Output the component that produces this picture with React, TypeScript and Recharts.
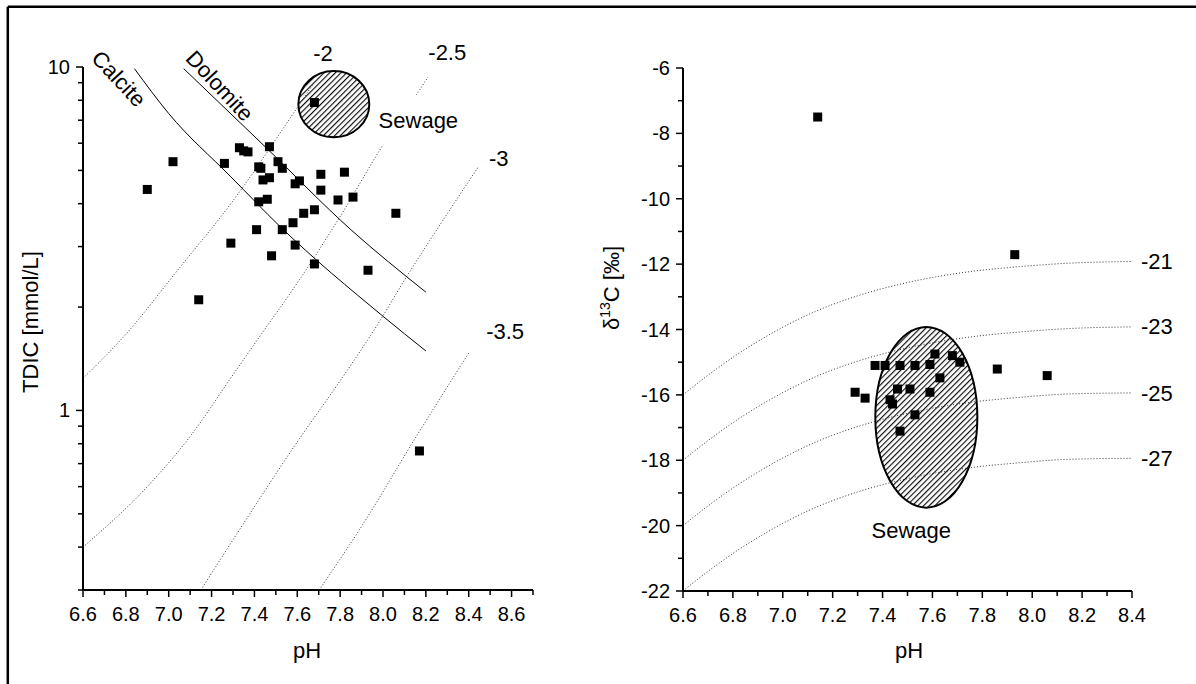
import React from "react";
import {
  ComposedChart,
  Line,
  Scatter,
  XAxis,
  YAxis,
  ReferenceArea,
  ReferenceDot,
} from "recharts";

const FONT = "'Liberation Sans', Arial, Helvetica, sans-serif";

// ---------- left panel: TDIC vs pH ----------
const PH_TICKS_LEFT = [
  6.6, 6.7, 6.8, 6.9, 7.0, 7.1, 7.2, 7.3, 7.4, 7.5, 7.6, 7.7, 7.8, 7.9, 8.0,
  8.1, 8.2, 8.3, 8.4, 8.5, 8.6, 8.7,
];
const TDIC_TICKS = [0.3, 0.4, 0.5, 0.6, 0.7, 0.8, 0.9, 1, 2, 3, 4, 5, 6, 7, 8, 9, 10];
const TDIC_LABELLED = [1, 10];

const tdicSamples = [
  { x: 7.68, y: 7.88 }, { x: 7.02, y: 5.3 }, { x: 6.9, y: 4.4 }, { x: 7.14, y: 2.1 },
  { x: 7.26, y: 5.24 }, { x: 7.33, y: 5.82 }, { x: 7.35, y: 5.7 }, { x: 7.37, y: 5.66 },
  { x: 7.47, y: 5.86 }, { x: 7.42, y: 5.12 }, { x: 7.43, y: 5.07 }, { x: 7.51, y: 5.3 },
  { x: 7.53, y: 5.07 }, { x: 7.44, y: 4.69 }, { x: 7.47, y: 4.76 }, { x: 7.59, y: 4.57 },
  { x: 7.61, y: 4.66 }, { x: 7.71, y: 4.87 }, { x: 7.82, y: 4.94 }, { x: 7.71, y: 4.38 },
  { x: 7.79, y: 4.1 }, { x: 7.86, y: 4.18 }, { x: 7.42, y: 4.05 }, { x: 7.46, y: 4.12 },
  { x: 7.68, y: 3.84 }, { x: 7.63, y: 3.75 }, { x: 7.58, y: 3.52 }, { x: 8.06, y: 3.75 },
  { x: 7.41, y: 3.36 }, { x: 7.53, y: 3.36 }, { x: 7.59, y: 3.03 }, { x: 7.29, y: 3.07 },
  { x: 7.48, y: 2.82 }, { x: 7.68, y: 2.67 }, { x: 7.93, y: 2.56 }, { x: 8.17, y: 0.762 },
];

const calcite = [
  { x: 6.84, y: 9.89 }, { x: 7.0, y: 7.32 }, { x: 7.29, y: 4.79 },
  { x: 7.52, y: 3.43 }, { x: 8.0, y: 1.88 }, { x: 8.2, y: 1.49 },
];
const dolomite = [
  { x: 7.07, y: 9.89 }, { x: 7.45, y: 5.86 }, { x: 7.85, y: 3.36 }, { x: 8.2, y: 2.21 },
];

// log pCO2 isolines
const pco2m20 = [
  { x: 6.6, y: 1.24 }, { x: 6.79, y: 1.64 }, { x: 7.05, y: 2.6 },
  { x: 7.29, y: 4.0 }, { x: 7.58, y: 7.3 }, { x: 7.67, y: 8.85 },
];
const pco2m25 = [
  { x: 6.6, y: 0.4 }, { x: 6.9, y: 0.6 }, { x: 7.1, y: 0.84 }, { x: 7.3, y: 1.27 },
  { x: 7.43, y: 1.66 }, { x: 7.6, y: 2.35 }, { x: 7.8, y: 3.67 }, { x: 8.0, y: 5.93 },
  { x: 8.16, y: 8.37 }, { x: 8.21, y: 9.35 },
];
const pco2m30 = [
  { x: 7.15, y: 0.3 }, { x: 7.36, y: 0.48 }, { x: 7.6, y: 0.81 }, { x: 7.8, y: 1.22 },
  { x: 7.97, y: 1.76 }, { x: 8.11, y: 2.45 }, { x: 8.28, y: 3.58 }, { x: 8.445, y: 5.12 },
];
const pco2m35 = [
  { x: 7.71, y: 0.305 }, { x: 7.91, y: 0.47 }, { x: 8.14, y: 0.81 }, { x: 8.4, y: 1.47 },
];

const pco2Labels = [
  { text: "-2", x: 7.72, y: 10.94 },
  { text: "-2.5", x: 8.3, y: 11.03 },
  { text: "-3", x: 8.54, y: 5.4 },
  { text: "-3.5", x: 8.57, y: 1.7 },
];
const sewageLeft = { x1: 7.605, x2: 7.936, y1: 6.24, y2: 9.74, labelX: 8.165, labelY: 6.97 };

// ---------- right panel: d13C vs pH ----------
const PH_TICKS_RIGHT = [
  6.6, 6.7, 6.8, 6.9, 7.0, 7.1, 7.2, 7.3, 7.4, 7.5, 7.6, 7.7, 7.8, 7.9, 8.0,
  8.1, 8.2, 8.3, 8.4,
];
const D13C_TICKS = [-22, -21, -20, -19, -18, -17, -16, -15, -14, -13, -12, -11, -10, -9, -8, -7, -6];

const d13cSamples = [
  { x: 7.14, y: -7.5 }, { x: 7.93, y: -11.71 },
  { x: 7.29, y: -15.92 }, { x: 7.33, y: -16.1 }, { x: 7.37, y: -15.1 }, { x: 7.41, y: -15.1 },
  { x: 7.47, y: -15.1 }, { x: 7.53, y: -15.1 }, { x: 7.59, y: -15.07 }, { x: 7.61, y: -14.75 },
  { x: 7.68, y: -14.8 }, { x: 7.71, y: -15.0 }, { x: 7.63, y: -15.48 }, { x: 7.46, y: -15.82 },
  { x: 7.51, y: -15.82 }, { x: 7.59, y: -15.92 }, { x: 7.43, y: -16.15 }, { x: 7.44, y: -16.28 },
  { x: 7.53, y: -16.61 }, { x: 7.47, y: -17.11 }, { x: 7.86, y: -15.21 }, { x: 8.06, y: -15.41 },
];

// d13C of source CO2 isolines
const PH_ISO = [6.6, 6.7, 6.82, 6.93, 7.13, 7.3, 7.49, 7.76, 7.93, 8.15, 8.4];
const iso21 = [-16.0, -15.4, -14.75, -14.23, -13.45, -12.97, -12.58, -12.22, -12.09, -11.97, -11.92];
const iso23 = [-18.0, -17.4, -16.75, -16.23, -15.45, -14.97, -14.58, -14.22, -14.09, -13.97, -13.92];
const iso25 = [-20.0, -19.4, -18.75, -18.23, -17.45, -16.97, -16.58, -16.22, -16.09, -15.97, -15.94];
const iso27 = [-22.0, -21.4, -20.75, -20.23, -19.45, -18.97, -18.58, -18.22, -18.09, -17.97, -17.94];
const isoLabels = [
  { text: "-21", y: -11.92 },
  { text: "-23", y: -13.91 },
  { text: "-25", y: -15.95 },
  { text: "-27", y: -17.94 },
];
const ISO_LABEL_X = 8.5;
const sewageRight = { x1: 7.371, x2: 7.78, y1: -19.45, y2: -13.92, labelX: 7.515, labelY: -20.14 };

const toPoints = (xs: number[], ys: number[]) => xs.map((x, i) => ({ x, y: ys[i] }));

// ---------- shared renderers ----------
const square = (p: any) => (
  <rect x={p.cx - 4.5} y={p.cy - 4.5} width={9} height={9} fill="#000" />
);

const textShape =
  (text: string, size = 22, rotate = 0) =>
  (p: any) =>
    (
      <text
        x={p.cx}
        y={p.cy}
        textAnchor="middle"
        dominantBaseline="central"
        fontSize={size}
        fontFamily={FONT}
        fill="#000"
        transform={rotate ? `rotate(${rotate}, ${p.cx}, ${p.cy})` : undefined}
      >
        {text}
      </text>
    );

const boxedLabel = (text: string) => (p: any) =>
  (
    <g>
      <rect x={p.cx - 42} y={p.cy - 26} width={86} height={50} fill="#fff" />
      <text
        x={p.cx}
        y={p.cy}
        textAnchor="middle"
        dominantBaseline="central"
        fontSize={22}
        fontFamily={FONT}
        fill="#000"
      >
        {text}
      </text>
    </g>
  );

const ellipseShape = (fillId: string) => (p: any) =>
  (
    <ellipse
      cx={p.x + p.width / 2}
      cy={p.y + p.height / 2}
      rx={p.width / 2}
      ry={p.height / 2}
      fill={`url(#${fillId})`}
      stroke="#000"
      strokeWidth={2}
    />
  );

const makeXTick = (p: any) => {
  const v = p.payload.value as number;
  const major = Math.round(v * 10) % 2 === 0;
  return (
    <g>
      <line x1={p.x} y1={p.y} x2={p.x} y2={p.y + (major ? 7 : 5)} stroke="#000" strokeWidth={1.5} />
      {major && (
        <text x={p.x} y={p.y + 31} textAnchor="middle" fontSize={20} fontFamily={FONT} fill="#000">
          {v.toFixed(1)}
        </text>
      )}
    </g>
  );
};

const makeYTick = (isMajor: (v: number) => boolean) => (p: any) => {
  const v = p.payload.value as number;
  const major = isMajor(v);
  return (
    <g>
      <line x1={p.x - (major ? 7 : 5)} y1={p.y} x2={p.x} y2={p.y} stroke="#000" strokeWidth={1.5} />
      {major && (
        <text
          x={p.x - 13}
          y={p.y}
          textAnchor="end"
          dominantBaseline="central"
          fontSize={20}
          fontFamily={FONT}
          fill="#000"
        >
          {v}
        </text>
      )}
    </g>
  );
};

const hatch = (id: string) => (
  <defs>
    <pattern id={id} width={4} height={4} patternUnits="userSpaceOnUse" patternTransform="rotate(45)">
      <rect width={4} height={4} fill="#fff" />
      <line x1={0.6} y1={0} x2={0.6} y2={4} stroke="#000" strokeWidth={1.1} />
    </pattern>
  </defs>
);

const axisLine = { stroke: "#000", strokeWidth: 2 };
const dotted = { stroke: "#333", strokeWidth: 1, strokeDasharray: "1 2" };

function TdicChart() {
  return (
    <ComposedChart width={560} height={684} margin={{ top: 67, right: 27, bottom: 54, left: 33 }}>
      {hatch("hatchLeft")}
      <XAxis
        type="number"
        dataKey="x"
        domain={[6.6, 8.7]}
        ticks={PH_TICKS_LEFT}
        interval={0}
        allowDataOverflow
        tickSize={0}
        tickMargin={0}
        tickLine={false}
        axisLine={axisLine}
        tick={makeXTick}
        height={40}
      />
      <YAxis
        type="number"
        dataKey="y"
        scale="log"
        domain={[0.3, 10]}
        ticks={TDIC_TICKS}
        interval={0}
        allowDataOverflow
        tickSize={0}
        tickMargin={0}
        tickLine={false}
        axisLine={axisLine}
        tick={makeYTick((v) => TDIC_LABELLED.includes(v))}
        width={50}
      />
      <Line data={pco2m20} dataKey="y" dot={false} type="monotone" {...dotted} isAnimationActive={false} />
      <Line data={pco2m25} dataKey="y" dot={false} type="monotone" {...dotted} isAnimationActive={false} />
      <Line data={pco2m30} dataKey="y" dot={false} type="monotone" {...dotted} isAnimationActive={false} />
      <Line data={pco2m35} dataKey="y" dot={false} type="monotone" {...dotted} isAnimationActive={false} />
      <Line data={calcite} dataKey="y" dot={false} type="monotone" stroke="#000" strokeWidth={1} isAnimationActive={false} />
      <Line data={dolomite} dataKey="y" dot={false} type="monotone" stroke="#000" strokeWidth={1} isAnimationActive={false} />
      <ReferenceArea
        x1={sewageLeft.x1}
        x2={sewageLeft.x2}
        y1={sewageLeft.y1}
        y2={sewageLeft.y2}
        shape={ellipseShape("hatchLeft")}
      />
      <Scatter data={tdicSamples} shape={square} isAnimationActive={false} />
      <ReferenceDot x={sewageLeft.labelX} y={sewageLeft.labelY} ifOverflow="visible" shape={boxedLabel("Sewage")} />
      {pco2Labels.map((l) => (
        <ReferenceDot key={l.text} x={l.x} y={l.y} ifOverflow="visible" shape={textShape(l.text)} />
      ))}
      <ReferenceDot x={6.767} y={9.25} ifOverflow="visible" shape={textShape("Calcite", 22, 47)} />
      <ReferenceDot x={7.238} y={8.81} ifOverflow="visible" shape={textShape("Dolomite", 22, 47)} />
    </ComposedChart>
  );
}

function D13cChart() {
  return (
    <ComposedChart width={616} height={684} margin={{ top: 68, right: 64, bottom: 53, left: 53 }}>
      {hatch("hatchRight")}
      <XAxis
        type="number"
        dataKey="x"
        domain={[6.6, 8.4]}
        ticks={PH_TICKS_RIGHT}
        interval={0}
        allowDataOverflow
        tickSize={0}
        tickMargin={0}
        tickLine={false}
        axisLine={axisLine}
        tick={makeXTick}
        height={40}
      />
      <YAxis
        type="number"
        dataKey="y"
        domain={[-22, -6]}
        ticks={D13C_TICKS}
        interval={0}
        allowDataOverflow
        tickSize={0}
        tickMargin={0}
        tickLine={false}
        axisLine={axisLine}
        tick={makeYTick((v) => Math.abs(v) % 2 === 0)}
        width={50}
      />
      <Line data={toPoints(PH_ISO, iso21)} dataKey="y" dot={false} type="monotone" {...dotted} isAnimationActive={false} />
      <Line data={toPoints(PH_ISO, iso23)} dataKey="y" dot={false} type="monotone" {...dotted} isAnimationActive={false} />
      <Line data={toPoints(PH_ISO, iso25)} dataKey="y" dot={false} type="monotone" {...dotted} isAnimationActive={false} />
      <Line data={toPoints(PH_ISO, iso27)} dataKey="y" dot={false} type="monotone" {...dotted} isAnimationActive={false} />
      <ReferenceArea
        x1={sewageRight.x1}
        x2={sewageRight.x2}
        y1={sewageRight.y1}
        y2={sewageRight.y2}
        shape={ellipseShape("hatchRight")}
      />
      <Scatter data={d13cSamples} shape={square} isAnimationActive={false} />
      <ReferenceDot x={sewageRight.labelX} y={sewageRight.labelY} ifOverflow="visible" shape={textShape("Sewage")} />
      {isoLabels.map((l) => (
        <ReferenceDot key={l.text} x={ISO_LABEL_X} y={l.y} ifOverflow="visible" shape={textShape(l.text)} />
      ))}
    </ComposedChart>
  );
}

export default function App() {
  return (
    <div style={{ position: "absolute", left: 0, top: 0, width: 1196, height: 684, background: "#fff", overflow: "hidden" }}>
      <div style={{ position: "absolute", left: 0, top: 0 }}>
        <TdicChart />
      </div>
      <div style={{ position: "absolute", left: 580, top: 0 }}>
        <D13cChart />
      </div>
      <svg
        width={1196}
        height={684}
        style={{ position: "absolute", left: 0, top: 0, pointerEvents: "none" }}
        fontFamily={FONT}
      >
        <line x1={7.8} y1={6.8} x2={1196} y2={6.8} stroke="#000" strokeWidth={2.5} />
        <line x1={7.8} y1={6.8} x2={7.8} y2={684} stroke="#000" strokeWidth={2.5} />
        <text transform="translate(37.5, 322) rotate(-90)" textAnchor="middle" fontSize={22} fill="#000">
          TDIC [mmol/L]
        </text>
        <text x={307} y={658} textAnchor="middle" fontSize={22} fill="#000">
          pH
        </text>
        <text x={909} y={658} textAnchor="middle" fontSize={22} fill="#000">
          pH
        </text>
        <text transform="translate(619, 288) rotate(-90)" textAnchor="middle" fontSize={22} fill="#000">
          δ<tspan dy={-9} fontSize={14}>13</tspan>
          <tspan dy={9}>C [‰]</tspan>
        </text>
      </svg>
    </div>
  );
}
